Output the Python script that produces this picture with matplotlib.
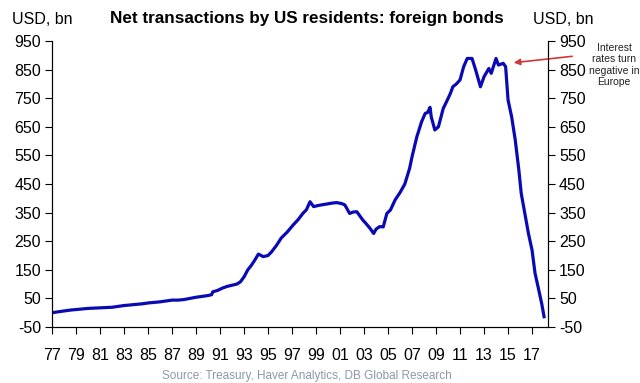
import matplotlib
matplotlib.use("Agg")
import matplotlib.pyplot as plt

plt.rcParams['font.family'] = ['Liberation Sans', 'DejaVu Sans']
plt.rcParams['axes.unicode_minus'] = False

# Data: decimal year, net transactions (USD bn)
years = [1977.0, 1977.5, 1978.0, 1978.5, 1979.0, 1979.5, 1980.0, 1980.5, 1981.0, 1981.5,
         1982.0, 1982.5, 1983.0, 1983.5, 1984.0, 1984.5, 1985.0, 1985.5, 1986.0, 1986.5,
         1987.0, 1987.5, 1988.0, 1988.5, 1989.0, 1989.5, 1990.0, 1990.3, 1990.4, 1990.8,
         1991.2, 1991.6, 1992.0, 1992.4, 1992.7, 1993.0, 1993.3, 1993.6, 1993.9, 1994.2,
         1994.6, 1995.0, 1995.3, 1995.7, 1996.1, 1996.6, 1997.1, 1997.5, 1997.9, 1998.2,
         1998.5, 1998.8, 1999.2, 1999.6, 1999.9, 2000.3, 2000.7, 2001.1, 2001.4, 2001.8,
         2002.1, 2002.4, 2002.9, 2003.2, 2003.5, 2003.8, 2004.0, 2004.3, 2004.6, 2004.9,
         2005.2, 2005.6, 2006.0, 2006.4, 2006.8, 2007.0, 2007.4, 2007.8, 2008.1, 2008.3,
         2008.5, 2008.6, 2008.9, 2009.2, 2009.6, 2009.9, 2010.2, 2010.4, 2010.7, 2011.0,
         2011.3, 2011.6, 2012.0, 2012.3, 2012.7, 2013.0, 2013.4, 2013.6, 2014.0, 2014.2,
         2014.6, 2014.8, 2015.0, 2015.3, 2015.6, 2015.9, 2016.1, 2016.4, 2016.7, 2017.0,
         2017.25, 2017.5, 2017.8, 2018.0]
values = [0, 3, 6, 9, 11, 13, 15, 16, 17, 18,
          19, 22, 25, 27, 29, 31, 34, 36, 38, 41,
          44, 44, 46, 50, 54, 57, 60, 63, 73, 78,
          86, 92, 96, 100, 108, 125, 149, 165, 184, 205,
          196, 200, 213, 235, 261, 282, 307, 325, 347, 360,
          388, 371, 375, 378, 380, 383, 385, 382, 377, 347,
          352, 353, 324, 310, 295, 277, 292, 301, 300, 347,
          359, 395, 420, 450, 505, 545, 615, 668, 697, 700,
          718, 685, 639, 650, 714, 740, 767, 790, 800, 814,
          860, 889, 889, 849, 790, 825, 854, 837, 889, 866,
          872, 860, 744, 685, 604, 499, 417, 347, 277, 219,
          138, 91, 33, -14]

x_ticks = list(range(1977, 2018, 2))
x_labels = [f"{y % 100:02d}" for y in x_ticks]
y_ticks = list(range(-50, 951, 100))

title = "Net transactions by US residents: foreign bonds"
unit = "USD, bn"
note = "Interest\nrates turn\nnegative in\nEurope"
source = "Source: Treasury, Haver Analytics, DB Global Research"

W, H = 640, 383
fig = plt.figure(figsize=(W / 100, H / 100), dpi=100)
fig.patch.set_facecolor("white")
ax = fig.add_axes([52 / W, 1 - 327 / H, (548 - 52) / W, (327 - 41) / H])

ax.plot(years, values, color="#0a0ab4", lw=2.3, solid_joinstyle="round")
ax.set_xlim(1977.0, 2018.33)
ax.set_ylim(-50, 950)
ax.set_xticks(x_ticks)
ax.set_xticklabels(x_labels)
ax.set_yticks(y_ticks)
ax.tick_params(axis="x", direction="out", length=5, width=0.8, labelsize=11.5, pad=10)
ax.tick_params(axis="y", direction="out", length=5, width=0.8, labelsize=11.5, pad=3)
ax.spines["top"].set_visible(False)
for s in ["left", "bottom", "right"]:
    ax.spines[s].set_linewidth(0.8)

ax2 = ax.twinx()
ax2.set_ylim(-50, 950)
ax2.set_yticks(y_ticks)
ax2.tick_params(axis="y", direction="out", length=5, width=0.8, labelsize=11.5, pad=3)
ax2.spines["top"].set_visible(False)
ax2.spines["right"].set_linewidth(0.8)

fig.text(307 / W, 1 - 19 / H, title, ha="center", va="center", fontsize=12.3, fontweight="bold")
fig.text(42 / W, 1 - 19 / H, unit, ha="center", va="center", fontsize=11.5)
fig.text(563 / W, 1 - 19 / H, unit, ha="center", va="center", fontsize=11.5)
fig.text(614 / W, 1 - 65 / H, note, ha="center", va="center", fontsize=7.5, linespacing=1.15, color="#222222")
fig.text(307 / W, 1 - 376 / H, source, ha="center", va="center", fontsize=8.5, color="#8a99aa")

ax.annotate("", xy=(511, H - 63), xycoords="figure pixels",
            xytext=(575, H - 56), textcoords="figure pixels",
            arrowprops=dict(arrowstyle="-|>", color="#d03838", lw=1.2, mutation_scale=9),
            annotation_clip=False)

fig.savefig("out.png", dpi=100, facecolor="white")
